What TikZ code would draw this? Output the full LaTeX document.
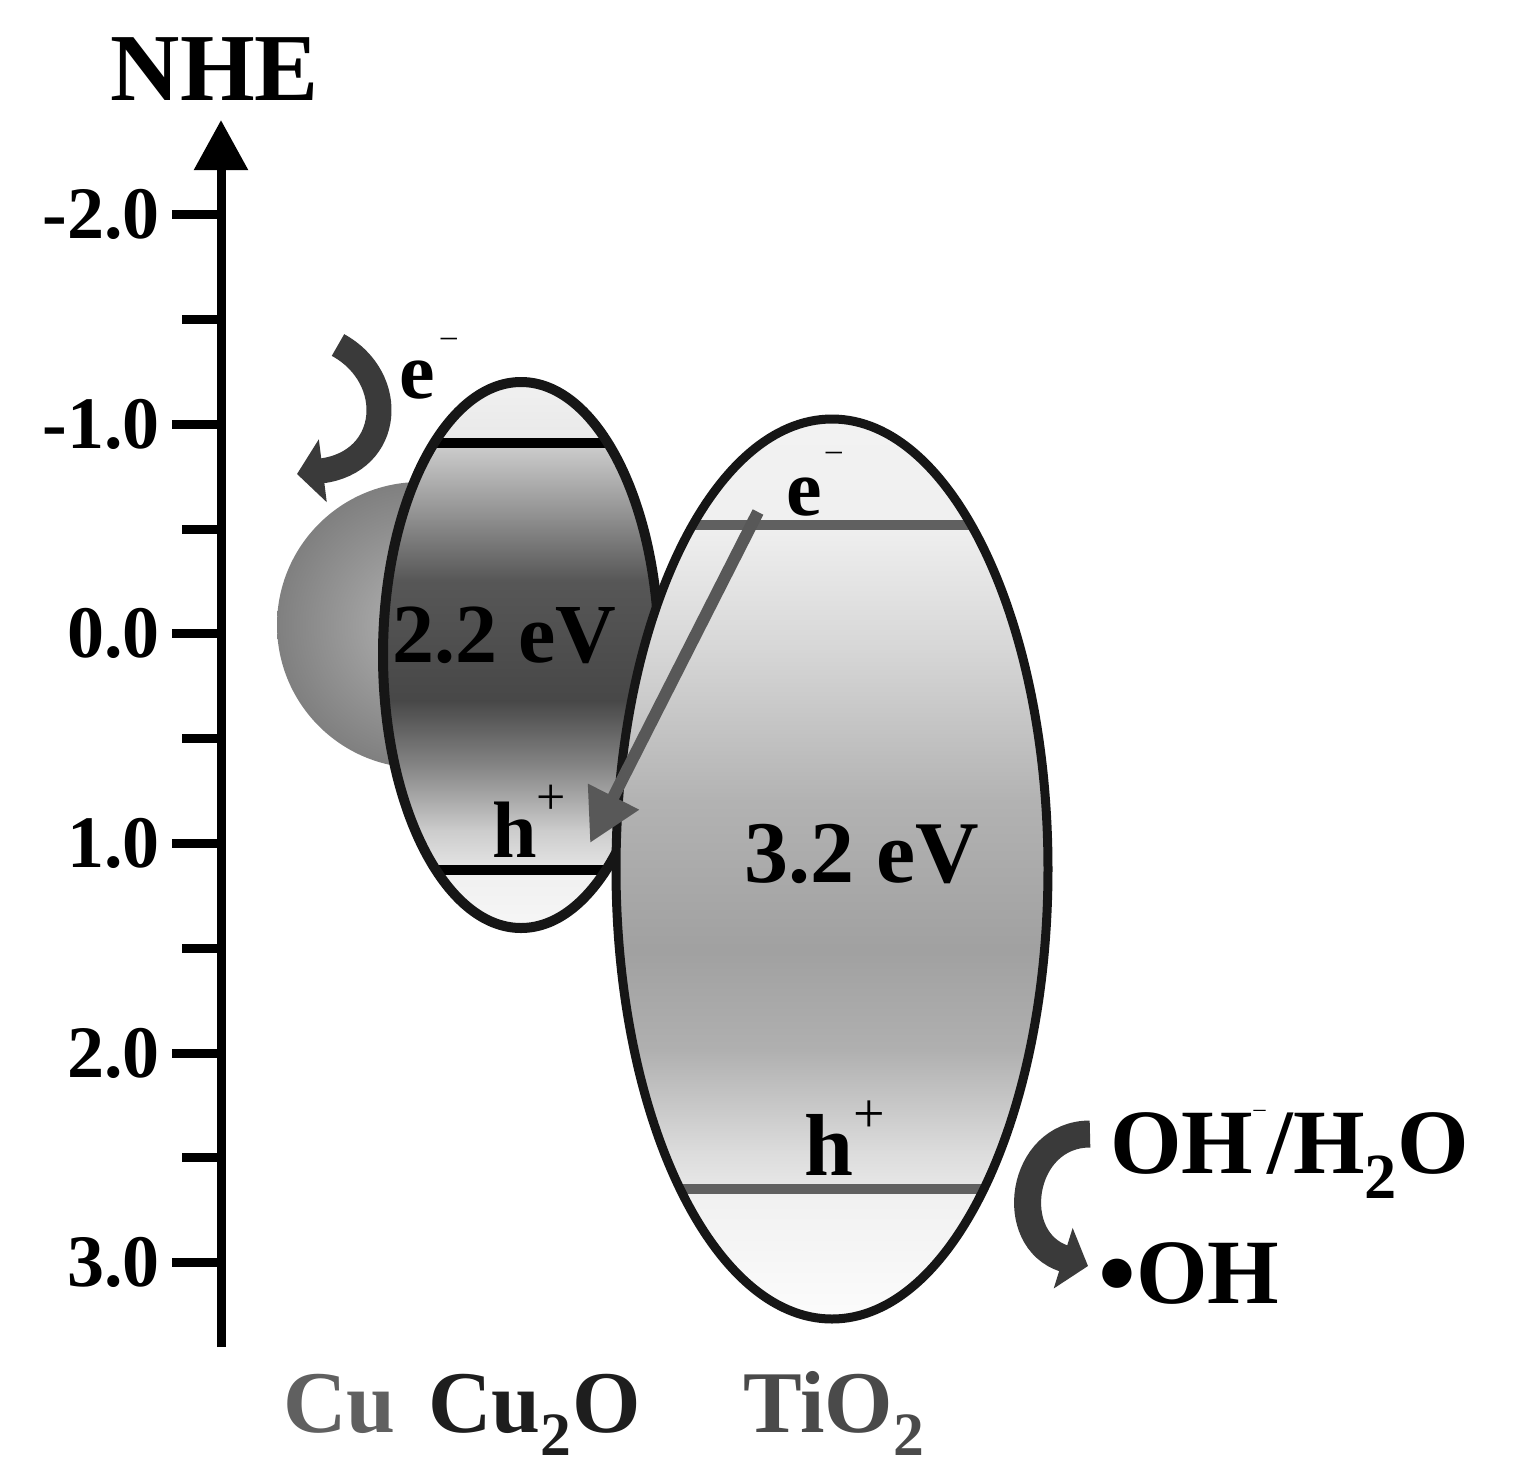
\documentclass[tikz,border=0pt]{standalone}
\usepackage{fontspec}
\setmainfont{Liberation Serif}
\usetikzlibrary{arrows.meta}
\newcommand{\fsz}[1]{\fontsize{#1}{#1}\selectfont}
\definecolor{arrowgray}{HTML}{3A3A3A}
\definecolor{transgray}{HTML}{585858}
\definecolor{tiline}{HTML}{606060}
\definecolor{outlinecol}{HTML}{161616}
\definecolor{cugray}{HTML}{606060}
\definecolor{cuotext}{HTML}{1E1E1E}
\definecolor{titext}{HTML}{4A4A4A}
\begin{document}
\begin{tikzpicture}[x=0.5pt,y=-0.5pt,
  lbl/.style={inner sep=0pt,font=\bfseries},
  axisline/.style={line width=4.5pt,-{Triangle[length=25pt,width=26pt]}},
  tickmark/.style={line width=4.5pt},
  cuband/.style={line width=5pt,draw=black},
  tiband/.style={line width=5pt,draw=tiline},
  cuoutline/.style={line width=5pt,draw=outlinecol},
  tioutline/.style={line width=4.5pt,draw=outlinecol},
  curvarrow/.style={draw=arrowgray,line width=12.5pt,-{Triangle[length=13pt,width=31pt]}},
  transarrow/.style={draw=transgray,line width=6pt,-{Triangle[length=26pt,width=27pt]}}
]
\fill[white] (0,0) rectangle (1517,1479);
\useasboundingbox (0,0) rectangle (1517,1479);

% axis
\coordinate (axb) at (221,1347);
\coordinate (axt) at (221,120);
\draw[axisline] (axb) -- (axt);
\node[lbl,anchor=base] (nhe) at (215,100) {\fsz{48}NHE};
\foreach \v/\y in {-2.0/214,-1.0/424,0.0/633,1.0/843,2.0/1053,3.0/1262}{
  \draw[tickmark] (172,\y) -- (221,\y);
  \node[lbl,anchor=base east] (t\y) at (160,\y+24) {\fsz{37}\v};
}
\foreach \y in {319,529,738,948,1157}{
  \draw[tickmark] (182,\y) -- (221,\y);
}

% Cu sphere
\shade[inner color=black!30, outer color=black!50] (420,625) circle [radius=143];

% Cu2O ellipse
\begin{scope}
  \clip (521,655) ellipse [x radius=138, y radius=273];
  \shade[top color=black!5, bottom color=black!9] (370,370) rectangle (680,444);
  \shade[top color=black!19, bottom color=black!45] (370,443) rectangle (680,521);
  \shade[top color=black!45, bottom color=black!66] (370,520) rectangle (680,581);
  \shade[top color=black!66, bottom color=black!72] (370,580) rectangle (680,701);
  \shade[top color=black!72, bottom color=black!46] (370,700) rectangle (680,771);
  \shade[top color=black!46, bottom color=black!20] (370,770) rectangle (680,831);
  \shade[top color=black!20, bottom color=black!10] (370,830) rectangle (680,871);
  \shade[top color=black!6, bottom color=black!3] (370,870) rectangle (680,940);
  \draw[cuband] (370,443) -- (680,443);
  \draw[cuband] (370,870) -- (680,870);
\end{scope}
\draw[cuoutline] (521,655) ellipse [x radius=138, y radius=273];

% TiO2 ellipse
\begin{scope}
  \clip (832,869) ellipse [x radius=216, y radius=450];
  \shade[top color=black!5, bottom color=black!6] (600,410) rectangle (1060,526);
  \shade[top color=black!6, bottom color=black!16] (600,525) rectangle (1060,651);
  \shade[top color=black!16, bottom color=black!30] (600,650) rectangle (1060,801);
  \shade[top color=black!30, bottom color=black!37] (600,800) rectangle (1060,951);
  \shade[top color=black!37, bottom color=black!31] (600,950) rectangle (1060,1051);
  \shade[top color=black!31, bottom color=black!14] (600,1050) rectangle (1060,1151);
  \shade[top color=black!14, bottom color=black!9] (600,1150) rectangle (1060,1190);
  \shade[top color=black!6, bottom color=black!1] (600,1189) rectangle (1060,1325);
  \draw[tiband] (600,525) -- (1060,525);
  \draw[tiband] (600,1189) -- (1060,1189);
\end{scope}
\draw[tioutline] (832,869) ellipse [x radius=216, y radius=450];

% curved arrows
\coordinate (ca1s) at (338,345);
\coordinate (ca1e) at (297,474);
\draw[curvarrow] (ca1s) .. controls (398,378) and (392,462) .. (ca1e);
\coordinate (ca2s) at (1090,1134);
\coordinate (ca2e) at (1088,1266);
\draw[curvarrow,line width=13.5pt] (ca2s) .. controls (1020,1134) and (1005,1240) .. (ca2e);

% electron transfer arrow
\coordinate (tcb) at (758,512);
\coordinate (hcu) at (590,843);
\draw[transarrow] (tcb) -- (hcu);

% labels
\node[lbl,anchor=base west] (ecu) at (399,398) {\fsz{40}e\hspace{3pt}\raisebox{26pt}{\fsz{16}\mdseries –}};
\node[lbl,anchor=base west] (eti) at (786,515) {\fsz{40}e\hspace{2pt}\raisebox{27.5pt}{\fsz{16}\mdseries –}};
\node[lbl,anchor=base] (gcu) at (504,662) {\fsz{42}2.2 eV};
\node[lbl,anchor=base] (gti) at (862,882) {\fsz{44}3.2 eV};
\node[lbl,anchor=base west] (hcul) at (492,857) {\fsz{40}h\raisebox{21.5pt}{\fsz{26}\mdseries +}};
\node[lbl,anchor=base west] (htil) at (804,1175) {\fsz{44}h\raisebox{21.5pt}{\fsz{28}\mdseries +}};
\node[lbl,anchor=base west] (oh1) at (1110,1173) {\fsz{46}OH\raisebox{28.5pt}{\fsz{12}\mdseries –}\hspace{1pt}/H\textsubscript{2}O};
\node[lbl,anchor=base west] (oh2) at (1098,1303) {\fsz{46}\raisebox{-3pt}{\fsz{54}•}OH};
\node[lbl,anchor=base west,text=cugray] (lcu) at (283,1432) {\fsz{44}Cu};
\node[lbl,anchor=base west,text=cuotext] (lcuo) at (428,1432) {\fsz{44}Cu\textsubscript{2}O};
\node[lbl,anchor=base west,text=titext] (lti) at (743,1432) {\fsz{44}TiO\textsubscript{2}};
\end{tikzpicture}
\end{document}
